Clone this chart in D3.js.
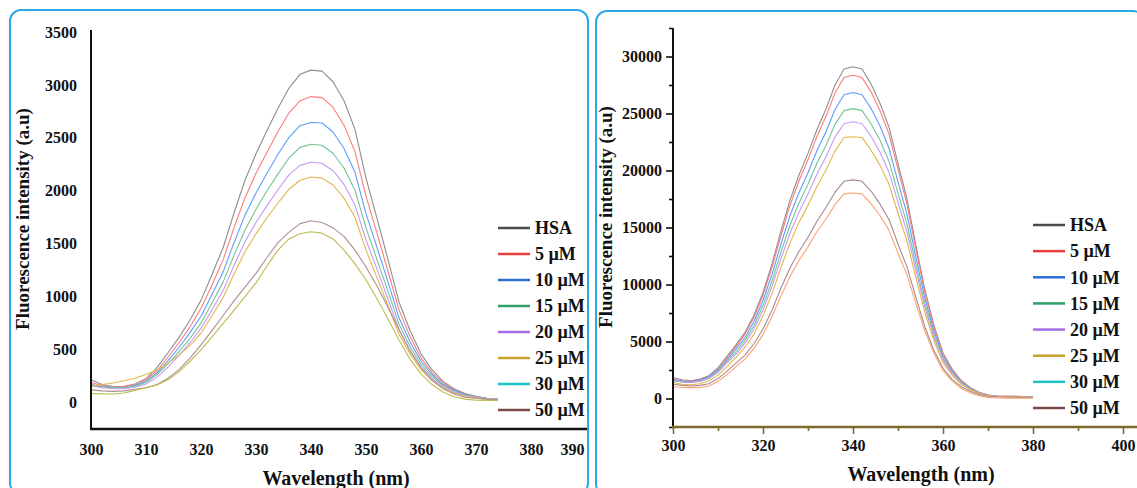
<!DOCTYPE html>
<html>
<head>
<meta charset="utf-8">
<script src="https://cdnjs.cloudflare.com/ajax/libs/d3/7.8.5/d3.min.js"></script>
<style>
  html, body { margin: 0; padding: 0; background: #ffffff; }
  svg { display: block; }
  text { font-family: "Liberation Serif", "Times New Roman", serif; font-weight: bold; fill: #111; }
</style>
</head>
<body>
<svg id="chart" width="1137" height="488"></svg>
<script>
// ---------------- DATA ----------------
const seriesNames = ["HSA", "5 \u00B5M", "10 \u00B5M", "15 \u00B5M", "20 \u00B5M", "25 \u00B5M", "30 \u00B5M", "50 \u00B5M"];

// Left panel (a)
const wavelengthsA = [300,302,304,306,308,310,312,314,316,318,320,322,324,326,328,330,332,334,336,338,340,342,344,346,348,350,352,354,356,358,360,362,364,366,368,370,372,374];
const a_HSA  = [215,170,150,150,175,225,330,470,615,780,965,1210,1460,1790,2100,2350,2570,2780,2970,3100,3140,3130,3030,2850,2580,2120,1740,1350,950,680,460,310,200,130,85,60,40,30];
const a_5uM  = [190,160,145,150,170,215,300,430,565,715,890,1110,1345,1650,1935,2165,2365,2560,2735,2850,2890,2880,2790,2620,2370,1950,1600,1240,875,625,420,285,185,120,80,55,40,30];
const a_10uM = [170,150,140,140,160,200,280,395,520,660,815,1020,1230,1510,1770,1980,2165,2345,2505,2615,2645,2640,2555,2400,2175,1785,1465,1140,800,575,390,265,170,115,75,55,40,30];
const a_15uM = [165,150,140,140,155,190,265,365,480,605,750,940,1135,1390,1630,1825,2000,2160,2310,2410,2440,2430,2355,2215,2005,1650,1350,1050,740,530,360,245,160,105,70,50,38,30];
const a_20uM = [160,140,130,130,145,175,240,335,445,565,700,875,1055,1295,1520,1700,1860,2010,2150,2240,2270,2260,2190,2060,1865,1535,1260,975,690,490,335,225,150,100,65,48,36,28];
const a_25uM = [150,170,185,205,230,265,310,370,450,540,655,820,990,1215,1425,1595,1745,1885,2015,2100,2130,2120,2055,1930,1750,1440,1180,915,645,460,310,210,140,90,60,45,32,25];
const a_30uM = [120,110,105,110,125,140,170,230,310,420,545,680,820,960,1090,1220,1370,1510,1610,1690,1717,1700,1650,1570,1440,1280,1100,900,690,490,330,210,130,80,50,38,30,25];
const a_50uM = [85,82,80,90,115,140,165,215,290,390,497,620,745,870,1000,1130,1290,1440,1545,1595,1613,1600,1545,1440,1310,1160,980,790,590,410,270,170,100,55,32,22,20,20];
const a_xTicks = [300,310,320,330,340,350,360,370,380,390];
const a_yTicks = [0,500,1000,1500,2000,2500,3000,3500];

// Right panel (b)
const wavelengthsB = [300,302,304,306,308,310,312,314,316,318,320,322,324,326,328,330,332,334,336,338,340,342,344,346,348,350,352,354,356,358,360,362,364,366,368,370,372,374,376,378,380];
const b_HSA  = [1850,1650,1550,1700,2000,2700,3700,4700,5800,7300,9300,11800,14700,17400,19600,21500,23600,25400,27500,28900,29100,28900,27600,25900,23800,20600,17500,13400,9500,6400,4000,2600,1600,970,550,300,220,200,190,180,180];
const b_5uM  = [1700,1550,1500,1650,1950,2600,3550,4550,5650,7100,9050,11500,14300,16950,19100,20950,23000,24750,26800,28150,28350,28150,26900,25250,23200,20100,17050,13050,9250,6250,3900,2550,1560,950,540,300,220,200,190,180,180];
const b_10uM = [1650,1500,1450,1600,1900,2500,3400,4350,5350,6750,8600,10900,13550,16050,18050,19800,21750,23400,25350,26650,26850,26650,25450,23900,21950,19000,16150,12350,8750,5900,3700,2400,1480,900,510,280,200,180,170,160,160];
const b_15uM = [1550,1450,1400,1550,1800,2400,3250,4100,5100,6400,8150,10300,12850,15200,17150,18800,20650,22200,24050,25250,25430,25250,24100,22650,20800,18000,15300,11700,8300,5600,3500,2300,1400,850,480,260,190,170,160,150,150];
const b_20uM = [1600,1450,1400,1500,1750,2300,3100,3900,4850,6100,7750,9850,12250,14500,16350,17950,19700,21200,22950,24100,24280,24100,23000,21600,19850,17200,14600,11200,7950,5350,3350,2200,1350,820,470,250,190,170,160,150,150];
const b_25uM = [1400,1250,1200,1300,1550,2050,2800,3600,4500,5650,7250,9200,11500,13650,15450,16950,18600,20050,21700,22900,22960,22900,21800,20450,18800,16250,13800,10550,7500,5050,3150,2050,1260,770,440,240,170,150,140,130,130];
const b_30uM = [1250,1150,1100,1150,1300,1750,2400,3100,3800,4800,6100,7750,9700,11450,12900,14150,15550,16750,18100,19050,19180,19050,18200,17050,15700,13550,11550,8850,6250,4200,2650,1700,1050,640,360,200,150,130,120,110,110];
const b_50uM = [1050,970,950,960,1100,1500,2100,2800,3450,4400,5600,7200,9000,10700,12100,13300,14650,15750,17000,17950,18030,17950,17100,16050,14750,12750,10850,8300,5900,3950,2450,1550,900,500,250,100,50,30,20,20,20];
const b_xTicks = [300,320,340,360,380,400];
const b_xMinor = [310,330,350,370,390];
const b_yTicks = [0,5000,10000,15000,20000,25000,30000];
const b_yMinor = [-2500,2500,7500,12500,17500,22500,27500,32500];

// ---------------- STYLE ----------------
const curveColorsA = ["#8e8e8e", "#ff7a7a", "#5c9cff", "#72c495", "#c79af2", "#e2b54a", "#b08e8e", "#bcbc52"];
const curveColorsB = ["#8e8e8e", "#ff7a7a", "#5c9cff", "#72c495", "#c79af2", "#e2b54a", "#a88a8a", "#ffa070"];
const legendColors = ["#4a4a4a", "#e8403f", "#2a6fd6", "#2f9e67", "#a66ee6", "#c9a22c", "#1fc2c8", "#7a4a4a"];
const frameColor = "#2aa9e6";

const svg = d3.select("#chart");

// frames
svg.append("rect").attr("x", 10).attr("y", 10).attr("width", 578).attr("height", 484)
  .attr("rx", 11).attr("fill", "none").attr("stroke", frameColor).attr("stroke-width", 2);
svg.append("rect").attr("x", 596).attr("y", 11).attr("width", 548).attr("height", 484)
  .attr("rx", 11).attr("fill", "none").attr("stroke", frameColor).attr("stroke-width", 2);

function drawPanel(cfg) {
  const g = svg.append("g");
  const x = d3.scaleLinear().domain(cfg.xDomain).range(cfg.xRange);
  const y = d3.scaleLinear().domain(cfg.yDomain).range(cfg.yRange);

  // curves
  const line = d3.line().x(d => x(d[0])).y(d => y(d[1]));
  cfg.series.forEach((vals, i) => {
    const pts = cfg.wl.map((w, j) => [w, vals[j]]);
    g.append("path").datum(pts).attr("d", line)
      .attr("fill", "none").attr("stroke", cfg.colors[i]).attr("stroke-width", 1.1)
      .attr("stroke-linejoin", "round");
  });

  // y axis
  const yAxis = d3.axisLeft(y).tickValues(cfg.yTicks).tickSize(cfg.yTickSize).tickPadding(cfg.yPad)
    .tickFormat(d3.format("d"));
  const ya = g.append("g").attr("transform", `translate(${cfg.xRange[0]},0)`).call(yAxis);
  ya.select(".domain").remove();
  ya.selectAll(".tick line").attr("stroke", "#111").attr("stroke-width", 1.6);
  ya.selectAll("text").style("font-size", cfg.tickFont + "px").attr("fill", "#111");
  if (cfg.yMinor) {
    const ym = g.append("g").attr("transform", `translate(${cfg.xRange[0]},0)`)
      .call(d3.axisLeft(y).tickValues(cfg.yMinor).tickSize(4).tickFormat(""));
    ym.select(".domain").remove();
    ym.selectAll(".tick line").attr("stroke", "#111").attr("stroke-width", 1.6);
  }
  g.append("line").attr("x1", cfg.xRange[0]).attr("x2", cfg.xRange[0])
    .attr("y1", cfg.yAxisTop).attr("y2", cfg.yRange[0] + 1)
    .attr("stroke", "#111").attr("stroke-width", 2);

  // x axis
  const xAxis = d3.axisBottom(x).tickValues(cfg.xTicks).tickSize(cfg.xTickSize).tickPadding(cfg.xPad)
    .tickFormat(d3.format("d"));
  const xa = g.append("g").attr("transform", `translate(0,${cfg.yRange[0]})`).call(xAxis);
  xa.select(".domain").remove();
  xa.selectAll(".tick line").attr("stroke", cfg.xAxisColor).attr("stroke-width", 1.6);
  xa.selectAll("text").style("font-size", cfg.tickFont + "px").attr("fill", "#111");
  if (cfg.lastTickEnd) {
    xa.selectAll(".tick").filter(d => d === cfg.xTicks[cfg.xTicks.length - 1])
      .select("text").attr("text-anchor", "end").attr("dx", "-2");
  }
  if (cfg.xMinor) {
    const xm = g.append("g").attr("transform", `translate(0,${cfg.yRange[0]})`)
      .call(d3.axisBottom(x).tickValues(cfg.xMinor).tickSize(4).tickFormat(""));
    xm.select(".domain").remove();
    xm.selectAll(".tick line").attr("stroke", cfg.xAxisColor).attr("stroke-width", 1.6);
  }
  g.append("line").attr("x1", cfg.xRange[0] - 1).attr("x2", cfg.xAxisEnd)
    .attr("y1", cfg.yRange[0]).attr("y2", cfg.yRange[0])
    .attr("stroke", cfg.xAxisColor).attr("stroke-width", 2.5);

  // titles
  g.append("text").attr("x", cfg.xTitlePos[0]).attr("y", cfg.xTitlePos[1])
    .attr("text-anchor", "middle").style("font-size", "20px").text("Wavelength (nm)");
  g.append("text").attr("transform", `translate(${cfg.yTitlePos[0]},${cfg.yTitlePos[1]}) rotate(-90)`)
    .attr("text-anchor", "middle").style("font-size", "19px").text("Fluorescence intensity (a.u)");

  // legend
  const ly = d3.scalePoint().domain(seriesNames).range(cfg.legendY);
  seriesNames.forEach((name, i) => {
    g.append("line").attr("x1", cfg.legendX).attr("x2", cfg.legendX + 32)
      .attr("y1", ly(name)).attr("y2", ly(name))
      .attr("stroke", legendColors[i]).attr("stroke-width", 2.5);
    g.append("text").attr("x", cfg.legendX + 37).attr("y", ly(name)).attr("dy", "0.35em")
      .style("font-size", "18px").text(name);
  });
}

drawPanel({
  wl: wavelengthsA,
  series: [a_HSA, a_5uM, a_10uM, a_15uM, a_20uM, a_25uM, a_30uM, a_50uM],
  colors: curveColorsA,
  xDomain: [300, 390], xRange: [91, 586],
  yDomain: [-250, 3500], yRange: [429, 32],
  yAxisTop: 30, xAxisEnd: 587,
  xTicks: a_xTicks, yTicks: a_yTicks,
  xTickSize: 0, yTickSize: 0, xPad: 15, yPad: 14,
  tickFont: 16, xAxisColor: "#111", lastTickEnd: true,
  xTitlePos: [336, 485], yTitlePos: [29, 219],
  legendX: 498, legendY: [228, 410]
});

drawPanel({
  wl: wavelengthsB,
  series: [b_HSA, b_5uM, b_10uM, b_15uM, b_20uM, b_25uM, b_30uM, b_50uM],
  colors: curveColorsB,
  xDomain: [300, 400], xRange: [673, 1123],
  yDomain: [-2500, 32500], yRange: [427, 28],
  yAxisTop: 28, xAxisEnd: 1137,
  xTicks: b_xTicks, yTicks: b_yTicks, xMinor: b_xMinor, yMinor: b_yMinor,
  xTickSize: 7, yTickSize: 7, xPad: 6, yPad: 4,
  tickFont: 16, xAxisColor: "#7d6a2e", lastTickEnd: false,
  xTitlePos: [921, 481], yTitlePos: [612, 217],
  legendX: 1033, legendY: [225, 408]
});
</script>
</body>
</html>
